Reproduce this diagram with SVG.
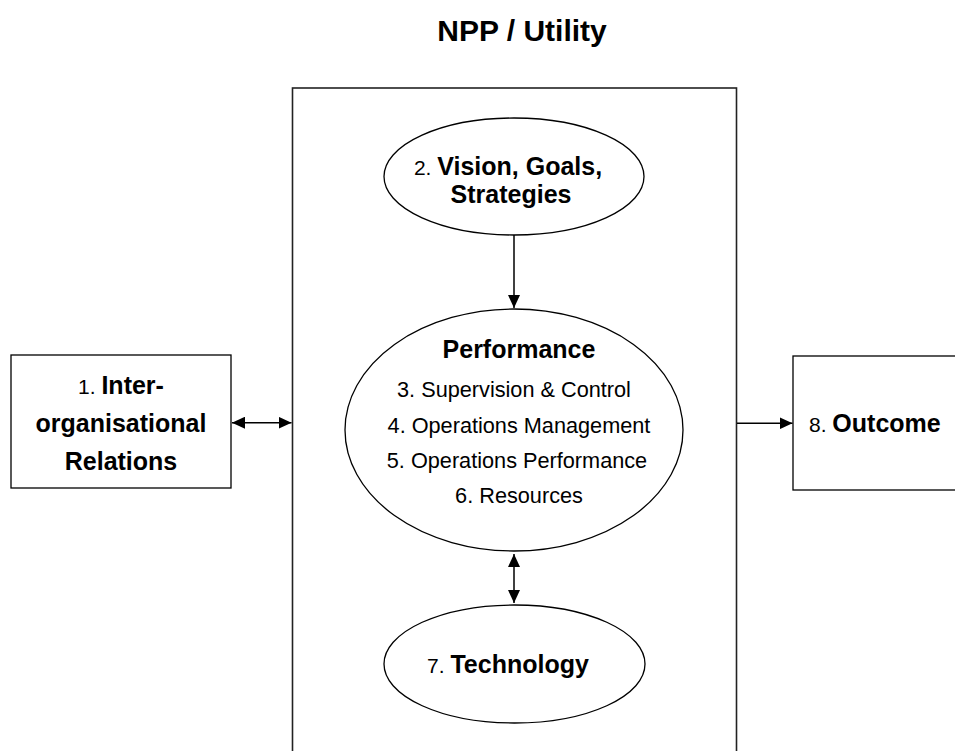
<svg xmlns="http://www.w3.org/2000/svg" width="955" height="751" viewBox="0 0 955 751">
<style>
text{font-family:"Liberation Sans",Arial,sans-serif;fill:#000}
.b{font-weight:bold;font-size:25px}
.r{font-size:21px}
.l{font-size:21.7px}
.shape{fill:#fff;stroke:#000;stroke-width:1.3}
.conn{stroke:#000;stroke-width:1.5;fill:none}
</style>
<defs>
<marker id="ah" markerUnits="userSpaceOnUse" markerWidth="14" markerHeight="12" refX="13" refY="6" orient="auto-start-reverse">
<path d="M0,0 L13,6 L0,12 Z" fill="#000"/>
</marker>
</defs>
<rect x="0" y="0" width="955" height="751" fill="#fff"/>
<text id="title" x="522" y="41" text-anchor="middle" style="font-weight:bold;font-size:30px">NPP / Utility</text>
<g id="npp">
<rect x="292.5" y="88" width="444" height="700" fill="none" stroke="#222" stroke-width="1.6"/>
</g>
<g id="connectors">
<line class="conn" x1="514" y1="235" x2="514" y2="308" marker-end="url(#ah)"/>
<line class="conn" x1="514" y1="554" x2="514" y2="603" marker-start="url(#ah)" marker-end="url(#ah)"/>
<line class="conn" x1="232" y1="422.7" x2="291.5" y2="422.7" marker-start="url(#ah)" marker-end="url(#ah)"/>
<line class="conn" x1="737" y1="423.3" x2="792.5" y2="423.3" marker-end="url(#ah)"/>
</g>
<g id="node1">
<rect class="shape" x="11" y="355" width="220" height="133"/>
<text x="121" y="394" text-anchor="middle"><tspan class="r">1. </tspan><tspan class="b">Inter-</tspan></text>
<text class="b" x="121" y="432" text-anchor="middle">organisational</text>
<text class="b" x="121" y="470" text-anchor="middle">Relations</text>
</g>
<g id="node2">
<ellipse class="shape" cx="514" cy="176.5" rx="130" ry="58.5"/>
<text x="508" y="175" text-anchor="middle"><tspan class="r">2. </tspan><tspan class="b">Vision, Goals,</tspan></text>
<text class="b" x="511" y="203" text-anchor="middle">Strategies</text>
</g>
<g id="performance">
<ellipse class="shape" cx="514" cy="430" rx="169" ry="121"/>
<text class="b" x="519" y="358" text-anchor="middle">Performance</text>
<text class="l" x="514" y="397" text-anchor="middle">3. Supervision &amp; Control</text>
<text class="l" x="519" y="433" text-anchor="middle">4. Operations Management</text>
<text class="l" x="517" y="468" text-anchor="middle">5. Operations Performance</text>
<text class="l" x="519" y="503" text-anchor="middle">6. Resources</text>
</g>
<g id="node7">
<ellipse class="shape" cx="514.5" cy="664" rx="130.5" ry="59"/>
<text x="508" y="673" text-anchor="middle"><tspan class="r">7. </tspan><tspan class="b">Technology</tspan></text>
</g>
<g id="node8">
<rect class="shape" x="793" y="356" width="180" height="134"/>
<text x="809" y="432"><tspan class="r">8. </tspan><tspan class="b">Outcome</tspan></text>
</g>
</svg>
